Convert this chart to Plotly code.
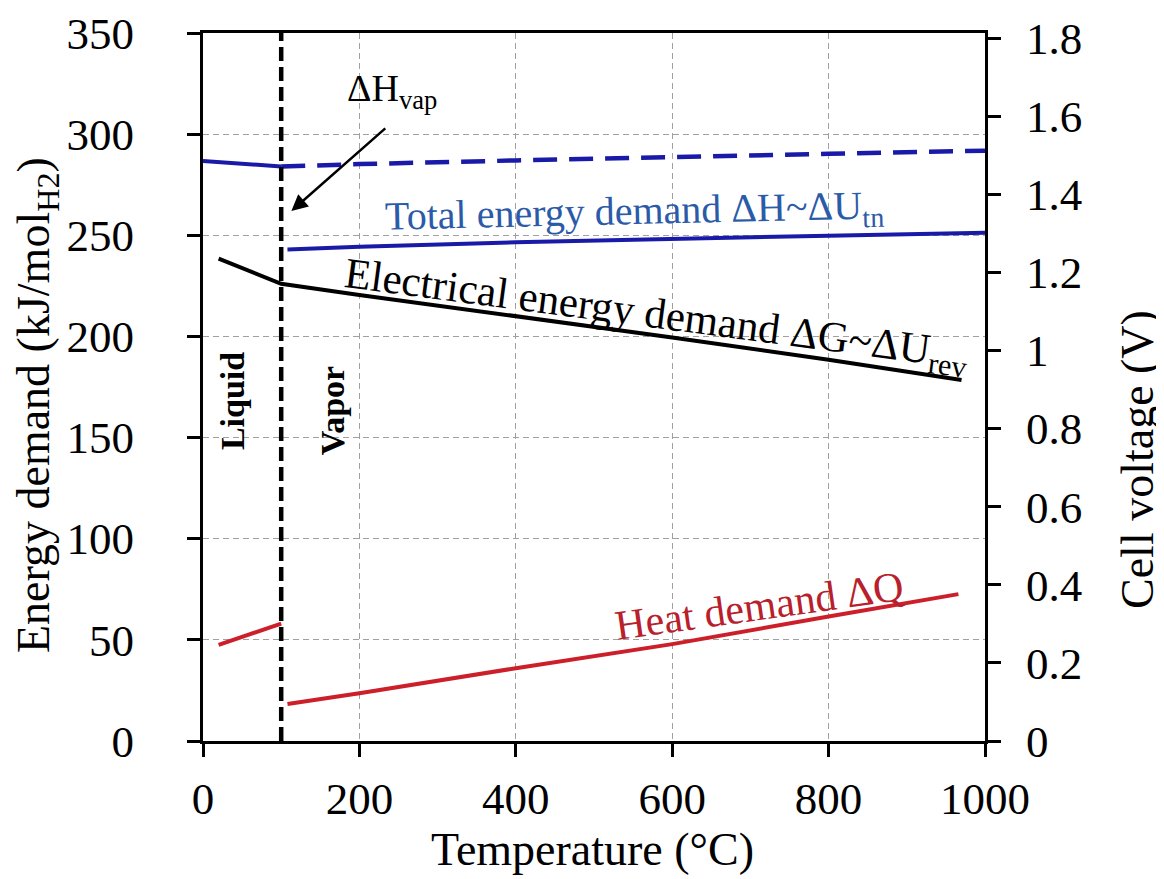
import plotly.graph_objects as go

# ---- data ----
T_liq_H = [0, 100]
H_liq = [286.7, 284.0]

T_liq_ext = [100, 200, 400, 600, 800, 1000]
H_liq_ext = [284.0, 285.2, 287.0, 288.8, 290.3, 291.8]

T_vap_H = [108, 200, 400, 600, 800, 1000]
H_vap = [243.0, 244.3, 246.5, 248.3, 249.8, 251.2]

T_G = [20, 100, 200, 400, 600, 800, 970]
G = [238.5, 226.0, 220.5, 210.0, 199.5, 188.5, 178.5]

T_liq_Q = [20, 100]
Q_liq = [47.5, 58.0]

T_vap_Q = [108, 200, 400, 600, 800, 966]
Q_vap = [18.3, 23.6, 36.0, 47.9, 61.5, 72.6]

T_boil = [100, 100]
boil_span = [0, 350]

x_ticks = [0, 200, 400, 600, 800, 1000]
y_ticks = [0, 50, 100, 150, 200, 250, 300, 350]
v_ticks = [0, 0.2, 0.4, 0.6, 0.8, 1.0, 1.2, 1.4, 1.6, 1.8]
v_labels = ["0", "0.2", "0.4", "0.6", "0.8", "1", "1.2", "1.4", "1.6", "1.8"]

FARADAY2 = 2 * 96.485  # kJ/mol per V
FONT = "Liberation Serif"
BLUE = "#1a1aa8"
RED = "#cc1f2a"

# the page body has an 8px margin; the figure is sized to compensate
PAGE_OFF = 8
W, H = 1164 - PAGE_OFF, 879 - PAGE_OFF
PL, PR, PT, PB = 203, 985, 33, 741  # plot area in page pixels


def px(xp):
    return (xp - PL) / (PR - PL)


def py(yp):
    return (PB - yp) / (PB - PT)


fig = go.Figure()

fig.add_trace(go.Scatter(x=T_liq_H, y=H_liq, mode="lines",
                         line=dict(color=BLUE, width=4), showlegend=False))
fig.add_trace(go.Scatter(x=T_liq_ext, y=H_liq_ext, mode="lines",
                         line=dict(color=BLUE, width=4.5, dash="24px,12px"), showlegend=False))
fig.add_trace(go.Scatter(x=T_vap_H, y=H_vap, mode="lines",
                         line=dict(color=BLUE, width=4), showlegend=False))
fig.add_trace(go.Scatter(x=T_G, y=G, mode="lines",
                         line=dict(color="black", width=4), showlegend=False))
fig.add_trace(go.Scatter(x=T_liq_Q, y=Q_liq, mode="lines",
                         line=dict(color=RED, width=4), showlegend=False))
fig.add_trace(go.Scatter(x=T_vap_Q, y=Q_vap, mode="lines",
                         line=dict(color=RED, width=4), showlegend=False))
fig.add_trace(go.Scatter(x=T_boil, y=boil_span, mode="lines",
                         line=dict(color="black", width=4.5, dash="14px,6px"), showlegend=False))
# invisible trace to activate the right axis
fig.add_trace(go.Scatter(x=[0], y=[0], yaxis="y2", mode="markers",
                         marker=dict(opacity=0), showlegend=False, hoverinfo="skip"))

tickfont = dict(family=FONT, size=45, color="black")

fig.update_layout(
    width=W, height=H,
    margin=dict(l=PL - PAGE_OFF, r=W + PAGE_OFF - PR, t=PT - PAGE_OFF,
                b=H + PAGE_OFF - PB, autoexpand=False),
    paper_bgcolor="white", plot_bgcolor="white",
    xaxis=dict(range=[0, 1000], tickvals=x_ticks, showline=True, linecolor="black",
               linewidth=3, mirror=True, ticks="outside", ticklen=13, tickwidth=3,
               tickcolor="black", showgrid=True, gridcolor="#a0a0a0", gridwidth=1,
               griddash="6px,4px", zeroline=False, tickfont=tickfont,
               ticklabelstandoff=3, automargin=False),
    yaxis=dict(range=[0, 350], tickvals=y_ticks, showline=True, linecolor="black",
               linewidth=3, ticks="outside", ticklen=13, tickwidth=3, tickcolor="black",
               showgrid=True, gridcolor="#a0a0a0", gridwidth=1, griddash="6px,4px",
               zeroline=False, tickfont=tickfont, ticklabelstandoff=44,
               automargin=False),
    yaxis2=dict(range=[0, 350 / FARADAY2], tickvals=v_ticks, ticktext=v_labels,
                overlaying="y", side="right", showline=True, linecolor="black",
                linewidth=3, ticks="outside", ticklen=13, tickwidth=3, tickcolor="black",
                showgrid=False, zeroline=False, tickfont=tickfont, ticklabelstandoff=16,
                automargin=False),
)

ann = []
# axis titles
ann.append(dict(text="Energy demand (kJ/mol<sub>H2</sub>)", xref="paper", yref="paper",
                x=px(37), y=py(405), xanchor="center", yanchor="middle", textangle=-90,
                showarrow=False, font=dict(family=FONT, size=46, color="black")))
ann.append(dict(text="Cell voltage (V)", xref="paper", yref="paper",
                x=px(1137), y=py(460), xanchor="center", yanchor="middle", textangle=-90,
                showarrow=False, font=dict(family=FONT, size=46, color="black")))
ann.append(dict(text="Temperature (°C)", xref="paper", yref="paper",
                x=px(592), y=py(849), xanchor="center", yanchor="middle",
                showarrow=False, font=dict(family=FONT, size=46, color="black")))
# curve labels
ann.append(dict(text="ΔH<sub>vap</sub>", x=241.5, y=321.5, xanchor="center", yanchor="middle",
                showarrow=False, font=dict(family=FONT, size=38, color="black")))
ann.append(dict(text="", x=113, y=262, ax=235, ay=303.5, axref="x", ayref="y",
                showarrow=True, arrowhead=2, arrowsize=1.3, arrowwidth=2.5,
                arrowcolor="black"))
ann.append(dict(text="Total energy demand ΔH~ΔU<sub>tn</sub>", x=552, y=261,
                xanchor="center", yanchor="middle", textangle=-1.3, showarrow=False,
                font=dict(family=FONT, size=40, color="#2b5ba8")))
ann.append(dict(text="Electrical energy demand ΔG~ΔU<sub>rev</sub>", x=580, y=209.5,
                xanchor="center", yanchor="middle", textangle=7.5, showarrow=False,
                font=dict(family=FONT, size=43, color="black")))
ann.append(dict(text="Heat demand ΔQ", x=711, y=66.5, xanchor="center", yanchor="middle",
                textangle=-8, showarrow=False,
                font=dict(family=FONT, size=42, color="#b8202c")))
ann.append(dict(text="<b>Liquid</b>", x=37, y=168, xanchor="center", yanchor="middle",
                textangle=-90, showarrow=False,
                font=dict(family=FONT, size=34, color="black")))
ann.append(dict(text="<b>Vapor</b>", x=165, y=163, xanchor="center", yanchor="middle",
                textangle=-90, showarrow=False,
                font=dict(family=FONT, size=34, color="black")))
fig.update_layout(annotations=ann)

fig.write_html("out.html")
